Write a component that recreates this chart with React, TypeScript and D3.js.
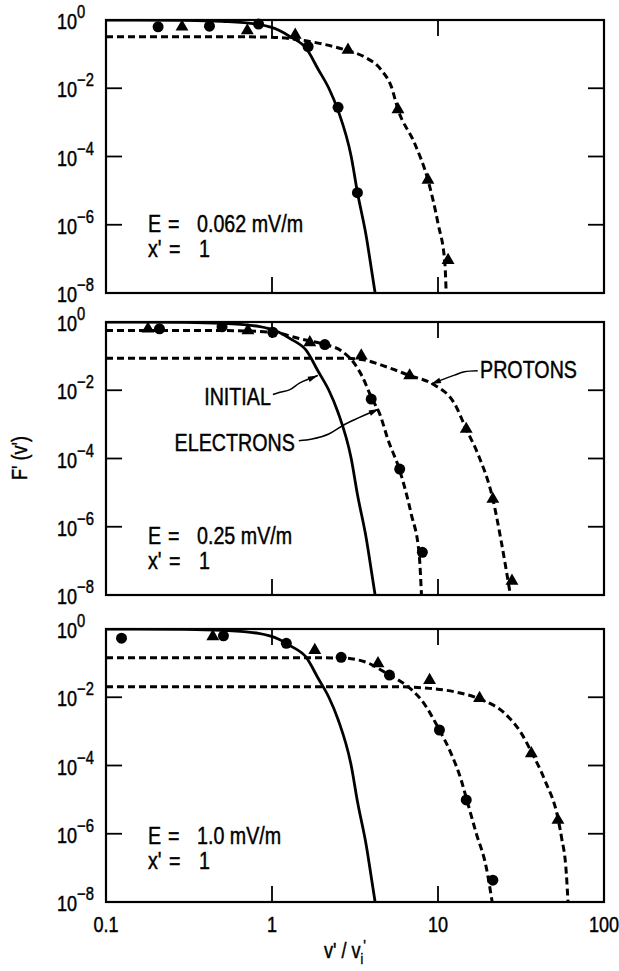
import React from 'react';
import * as d3 from 'd3';

const W = 619;
const H = 971;
const LEFT = 106;
const RIGHT = 604;
const PANEL_H = 273;
const FONT = '"Liberation Sans", Arial, Helvetica, sans-serif';
const NARROW = 0.82; // the figure uses a narrow Helvetica

// axes
const X_TICKS = [0.1, 1, 10, 100];
const X_TICK_LABELS = ['0.1', '1', '10', '100'];
const X_INNER_TICKS = [1, 10];
const Y_TICK_EXP = [0, -2, -4, -6, -8];

// initial distribution (solid), same in every panel; values are log10 F'
const INITIAL_V = [0.1, 0.3, 0.5, 0.83, 1.1, 1.3, 1.6, 1.9, 2.2, 2.5, 3.0, 3.27, 3.7, 4.0, 4.18];
const INITIAL_LOGF = [0, -0.01, -0.04, -0.13, -0.3, -0.5, -0.82, -1.45, -2.0, -2.65, -4.0, -5.05, -6.35, -7.4, -8];

// panel 1: E = 0.062 mV/m
const P1_PROTON_V = [0.1, 0.5, 0.95, 1.4, 2.0, 2.87, 3.6, 4.56, 5.24, 5.74, 7.24, 8.7, 10, 11, 11.2];
const P1_PROTON_LOGF = [-0.49, -0.49, -0.5, -0.57, -0.7, -0.9, -1.08, -1.47, -1.96, -2.62, -3.62, -4.69, -5.96, -7.13, -8];
const P1_ELEC_DOT_V = [0.206, 0.42, 0.83, 1.65, 2.5, 3.27];
const P1_ELEC_DOT_LOGF = [-0.2, -0.18, -0.12, -0.78, -2.56, -5.06];
const P1_PROT_DOT_V = [0.287, 0.71, 1.38, 2.87, 5.74, 8.7, 11.5];
const P1_PROT_DOT_LOGF = [-0.2, -0.31, -0.44, -0.88, -2.62, -4.69, -7.04];

// panel 2: E = 0.25 mV/m
const P2_ELEC_V = [0.1, 0.5, 1.0, 1.5, 2.08, 2.61, 3.15, 3.5, 3.96, 4.46, 5.0, 5.88, 6.9, 7.7, 7.95];
const P2_ELEC_LOGF = [-0.25, -0.25, -0.3, -0.5, -0.66, -0.84, -1.23, -1.6, -2.2, -2.7, -3.45, -4.35, -5.63, -6.8, -8];
const P2_PROTON_V = [0.1, 1.0, 2.61, 3.45, 5.0, 6.75, 9.3, 12.6, 14.8, 17.4, 21.4, 24, 27.3];
const P2_PROTON_LOGF = [-1.06, -1.06, -1.06, -1.1, -1.33, -1.57, -1.82, -2.4, -3.14, -3.87, -5.19, -6.41, -8];
const P2_ELEC_DOT_V = [0.21, 0.5, 1.01, 2.08, 3.96, 5.88, 8.05];
const P2_ELEC_DOT_LOGF = [-0.2, -0.14, -0.3, -0.66, -2.26, -4.31, -6.75];
const P2_PROT_DOT_V = [0.179, 0.716, 1.69, 3.45, 6.75, 14.8, 21.4, 27.9];
const P2_PROT_DOT_LOGF = [-0.2, -0.25, -0.6, -0.99, -1.57, -3.14, -5.19, -7.59];

// panel 3: E = 1.0 mV/m
const P3_ELEC_V = [0.1, 1.0, 2.61, 3.62, 5.1, 6.6, 7.94, 10.2, 12.0, 13.8, 14.8, 17.0, 19.5, 21.2];
const P3_ELEC_LOGF = [-0.84, -0.84, -0.85, -0.96, -1.35, -1.69, -2.08, -2.96, -3.65, -4.43, -4.95, -5.99, -6.97, -8];
const P3_PROTON_V = [0.1, 1.0, 5.0, 6.6, 8.9, 12.6, 17.8, 25.2, 31.8, 36.5, 44, 52.8, 55.4, 59.3, 60.7];
const P3_PROTON_LOGF = [-1.69, -1.69, -1.69, -1.7, -1.74, -1.84, -2.05, -2.47, -3.06, -3.6, -4.43, -5.55, -6.09, -7.16, -8];
const P3_ELEC_DOT_V = [0.124, 0.51, 1.22, 2.61, 5.1, 10.2, 14.8, 21.4];
const P3_ELEC_DOT_LOGF = [-0.27, -0.2, -0.42, -0.83, -1.35, -2.96, -5.01, -7.36];
const P3_PROT_DOT_V = [0.44, 1.81, 4.35, 8.9, 17.8, 36.5, 52.8];
const P3_PROT_DOT_LOGF = [-0.22, -0.62, -1.01, -1.5, -2.03, -3.65, -5.6];

type Pt = { v: number; lf: number };
const zip = (v: number[], lf: number[]): Pt[] => v.map((d, i) => ({ v: d, lf: lf[i] }));

const panels = [
  {
    top: 20,
    field: '0.062 mV/m',
    textY: 212,
    dashed: [zip(P1_PROTON_V, P1_PROTON_LOGF)],
    circles: zip(P1_ELEC_DOT_V, P1_ELEC_DOT_LOGF),
    triangles: zip(P1_PROT_DOT_V, P1_PROT_DOT_LOGF),
    labels: false,
  },
  {
    top: 322,
    field: '0.25 mV/m',
    textY: 222,
    dashed: [zip(P2_ELEC_V, P2_ELEC_LOGF), zip(P2_PROTON_V, P2_PROTON_LOGF)],
    circles: zip(P2_ELEC_DOT_V, P2_ELEC_DOT_LOGF),
    triangles: zip(P2_PROT_DOT_V, P2_PROT_DOT_LOGF),
    labels: true,
  },
  {
    top: 629,
    field: '1.0 mV/m',
    textY: 215,
    dashed: [zip(P3_ELEC_V, P3_ELEC_LOGF), zip(P3_PROTON_V, P3_PROTON_LOGF)],
    circles: zip(P3_ELEC_DOT_V, P3_ELEC_DOT_LOGF),
    triangles: zip(P3_PROT_DOT_V, P3_PROT_DOT_LOGF),
    labels: false,
  },
];

// leader annotations for the middle panel: anchor in data units, leader shape in px relative to the tip
const leaders = [
  { text: 'INITIAL', v: 1.89, lf: -1.57, anchor: 'end', tx: -47, ty: 29,
    path: [[-45, 19], [-38, 16.7], [-28, 14], [-18, 7.3], [0, 0]] },
  { text: 'ELECTRONS', v: 4.4, lf: -2.55, anchor: 'end', tx: -84, ty: 42,
    path: [[-80, 31.7], [-66.7, 30], [-50, 25], [-33.3, 15], [0, 0]] },
  { text: 'PROTONS', v: 9.08, lf: -1.82, anchor: 'start', tx: 49, ty: -6,
    path: [[46.7, -13.4], [33.4, -12.4], [23.4, -9], [10, -4], [0, 0]] },
];

const x = d3.scaleLog().domain([0.1, 100]).range([LEFT, RIGHT]);

// narrow text: horizontal compression about the anchor point
function NText({ x: tx, y: ty, size, anchor = 'start', rotate = 0, children }: any) {
  return (
    <text
      transform={`translate(${tx},${ty}) rotate(${rotate}) scale(${NARROW},1)`}
      textAnchor={anchor}
      fontFamily={FONT}
      fontSize={size}
      fill="#000"
      stroke="#000"
      strokeWidth={0.45}
    >
      {children}
    </text>
  );
}

function arrowHead(tip: number[], prev: number[], len = 10, half = 2.8) {
  const dx = tip[0] - prev[0];
  const dy = tip[1] - prev[1];
  const n = Math.hypot(dx, dy) || 1;
  const ux = dx / n, uy = dy / n;
  const bx = tip[0] - ux * len, by = tip[1] - uy * len;
  return `M${tip[0]},${tip[1]}L${bx - uy * half},${by + ux * half}L${bx + uy * half},${by - ux * half}Z`;
}

function Panel({ p, idx, last }: { p: any; idx: number; last: boolean }) {
  const y = d3.scaleLog().domain([1e-8, 1]).range([p.top + PANEL_H, p.top]);
  const line = d3.line<Pt>().x(d => x(d.v)).y(d => y(Math.pow(10, d.lf))).curve(d3.curveMonotoneX);
  const tri = d3.symbol().type(d3.symbolTriangle).size(72)();
  const clipId = `clip${idx}`;
  const initial = zip(INITIAL_V, INITIAL_LOGF);
  const ty0 = p.top + p.textY;

  return (
    <g>
      <defs>
        <clipPath id={clipId}>
          <rect x={LEFT} y={p.top} width={RIGHT - LEFT} height={PANEL_H} />
        </clipPath>
      </defs>

      <g clipPath={`url(#${clipId})`}>
        <path d={line(initial) || ''} fill="none" stroke="#000" strokeWidth={2.8} />
        {p.dashed.map((c: Pt[], i: number) => (
          <path key={i} d={line(c) || ''} fill="none" stroke="#000" strokeWidth={3} strokeDasharray="7 4" />
        ))}
      </g>

      {p.circles.map((d: Pt, i: number) => (
        <circle key={'c' + i} cx={x(d.v)} cy={y(Math.pow(10, d.lf))} r={5.5} fill="#000" />
      ))}
      {p.triangles.map((d: Pt, i: number) => (
        <path key={'t' + i} d={tri || ''} transform={`translate(${x(d.v)},${y(Math.pow(10, d.lf))})`} fill="#000" />
      ))}

      {/* frame and inward ticks */}
      <rect x={LEFT} y={p.top} width={RIGHT - LEFT} height={PANEL_H} fill="none" stroke="#000" strokeWidth={2.2} />
      {Y_TICK_EXP.map(e => {
        const ty = y(Math.pow(10, e));
        return (
          <g key={'yt' + e}>
            <line x1={LEFT} x2={LEFT + 16} y1={ty} y2={ty} stroke="#000" strokeWidth={1.8} />
            <line x1={RIGHT - 16} x2={RIGHT} y1={ty} y2={ty} stroke="#000" strokeWidth={1.8} />
            <NText x={57} y={ty + 9} size={22}>
              <tspan>10</tspan>
              <tspan dy={-11} fontSize={18}>{e === 0 ? '0' : '\u2212' + Math.abs(e)}</tspan>
            </NText>
          </g>
        );
      })}
      {X_INNER_TICKS.map(t => (
        <g key={'xt' + t}>
          <line x1={x(t)} x2={x(t)} y1={p.top} y2={p.top + 16} stroke="#000" strokeWidth={1.8} />
          <line x1={x(t)} x2={x(t)} y1={p.top + PANEL_H - 16} y2={p.top + PANEL_H} stroke="#000" strokeWidth={1.8} />
        </g>
      ))}

      {/* field label */}
      <NText x={148} y={ty0} size={24}>E</NText>
      <NText x={168} y={ty0} size={24}>=</NText>
      <NText x={197} y={ty0} size={24}>{p.field}</NText>
      <NText x={148} y={ty0 + 25} size={24}>x'</NText>
      <NText x={169} y={ty0 + 25} size={24}>=</NText>
      <NText x={199} y={ty0 + 25} size={24}>1</NText>

      {p.labels &&
        leaders.map(l => {
          const tip = [x(l.v), y(Math.pow(10, l.lf))];
          const pts = l.path.map(q => [tip[0] + q[0], tip[1] + q[1]] as [number, number]);
          const lead = d3.line().curve(d3.curveCatmullRom)(pts) || '';
          return (
            <g key={l.text}>
              <path d={lead} fill="none" stroke="#000" strokeWidth={1.5} />
              <path d={arrowHead(pts[pts.length - 1], pts[pts.length - 2])} fill="#000" />
              <NText x={tip[0] + l.tx} y={tip[1] + l.ty} size={24} anchor={l.anchor}>
                {l.text}
              </NText>
            </g>
          );
        })}

      {last &&
        X_TICKS.map((t, i) => (
          <NText key={'xl' + t} x={x(t)} y={p.top + PANEL_H + 30} size={22} anchor="middle">
            {X_TICK_LABELS[i]}
          </NText>
        ))}
    </g>
  );
}

export default function App() {
  return (
    <div style={{ position: 'absolute', left: 0, top: 0 }}>
      <svg width={W} height={H} viewBox={`0 0 ${W} ${H}`} style={{ display: 'block', background: '#fff' }}>
        {panels.map((p, i) => (
          <Panel key={i} p={p} idx={i} last={i === panels.length - 1} />
        ))}
        <NText x={27} y={458} size={22} anchor="middle" rotate={-90}>
          F' (v')
        </NText>
        <NText x={345} y={958} size={22} anchor="middle">
          <tspan>v' / v</tspan>
          <tspan dy={6} fontSize={15}>i</tspan>
          <tspan dy={-12} fontSize={17}>'</tspan>
        </NText>
      </svg>
    </div>
  );
}
